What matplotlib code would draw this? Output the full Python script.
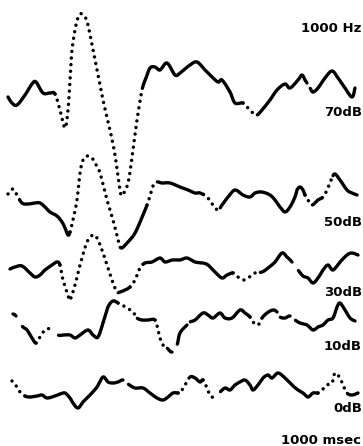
import matplotlib
matplotlib.use("Agg")
import numpy as np
import matplotlib.pyplot as plt

x70 = [8, 12, 17, 25, 32, 36, 43, 50, 55, 60, 65, 68, 70, 72, 76, 80, 85, 88, 93, 103,
       110, 115, 120, 122, 128, 133, 137, 142, 146, 150, 155, 160, 167, 175, 180, 190, 197, 205, 210, 218,
       222, 230, 235, 243, 248, 253, 257, 262, 270, 277, 285, 290, 298, 302, 305, 307, 310, 313, 318, 325,
       332, 338, 345, 352, 355]
y70 = [97, 103, 105, 95, 84, 82, 93, 93, 94, 110, 128, 110, 80, 50, 25, 14, 17, 25, 50, 100,
       130, 155, 190, 195, 183, 150, 120, 90, 78, 68, 67, 70, 63, 75, 73, 65, 62, 70, 75, 82,
       80, 92, 103, 103, 108, 113, 115, 110, 100, 90, 84, 88, 80, 75, 80, 83, 88, 92, 88, 78,
       71, 78, 88, 97, 88]

x50 = [8, 13, 17, 22, 28, 35, 40, 45, 50, 57, 62, 65, 68, 70, 73, 77, 80, 83, 87, 92,
       96, 100, 107, 113, 118, 121, 127, 135, 143, 147, 150, 153, 157, 162, 170, 180, 188, 195, 200, 207,
       213, 218, 222, 228, 235, 243, 250, 255, 262, 270, 275, 280, 285, 290, 295, 297, 300, 303, 305, 308,
       312, 318, 323, 327, 332, 335, 340, 347, 352, 357]
y50 = [194, 189, 195, 203, 204, 203, 203, 207, 212, 216, 222, 228, 235, 232, 220, 200, 173, 160, 156, 158,
       165, 173, 200, 220, 240, 248, 243, 233, 215, 205, 196, 186, 182, 183, 183, 187, 190, 193, 193, 197,
       205, 210, 205, 197, 190, 195, 197, 193, 192, 195, 200, 207, 212, 207, 197, 190, 187, 190, 195, 200,
       205, 200, 197, 190, 178, 174, 180, 190, 193, 195]

x30 = [10, 15, 22, 30, 35, 40, 45, 52, 57, 60, 63, 68, 70, 75, 80, 87, 93, 97, 102, 107,
       113, 117, 120, 125, 130, 135, 140, 145, 152, 160, 165, 172, 180, 187, 195, 203, 208, 215, 222, 227,
       233, 238, 243, 248, 255, 262, 268, 275, 282, 287, 292, 298, 303, 308, 313, 318, 323, 328, 333, 340,
       347, 352, 358]
y30 = [269, 267, 266, 273, 277, 275, 270, 265, 262, 265, 280, 295, 300, 285, 265, 242, 235, 238, 250, 265,
       283, 292, 292, 290, 287, 280, 268, 263, 262, 258, 262, 260, 260, 258, 262, 263, 265, 272, 278, 275,
       273, 277, 280, 278, 273, 272, 268, 262, 253, 257, 262, 270, 276, 278, 283, 278, 270, 265, 270, 262,
       255, 253, 255]

x10 = [13, 16, 22, 27, 32, 36, 40, 45, 50, 58, 63, 70, 75, 80, 88, 93, 98, 103, 108, 113,
       118, 122, 127, 133, 137, 142, 148, 155, 158, 160, 163, 167, 172, 177, 180, 187, 190, 195, 203, 208,
       213, 220, 225, 232, 240, 245, 250, 253, 258, 262, 267, 273, 277, 280, 285, 290, 295, 300, 307, 313,
       318, 323, 328, 333, 337, 340, 345, 350, 355]
y10 = [314, 316, 326, 330, 338, 343, 337, 330, 329, 335, 335, 335, 338, 335, 330, 335, 337, 323, 307, 301,
       303, 305, 308, 312, 318, 320, 320, 320, 330, 338, 345, 348, 352, 345, 333, 325, 322, 320, 313, 315,
       318, 313, 318, 318, 310, 313, 317, 322, 325, 318, 313, 310, 312, 317, 318, 316, 320, 323, 325, 330,
       327, 325, 320, 318, 307, 303, 310, 318, 321]

x0 = [12, 15, 20, 25, 30, 37, 42, 47, 55, 60, 65, 70, 73, 78, 83, 90, 97, 103, 108, 113,
      118, 123, 128, 135, 143, 150, 157, 163, 168, 173, 178, 180, 185, 190, 195, 200, 203, 207, 210, 213,
      220, 225, 230, 235, 240, 245, 250, 253, 258, 263, 268, 272, 278, 285, 292, 298, 303, 308, 313, 318,
      322, 327, 332, 335, 340, 343, 347, 352, 358]
y0 = [381, 384, 392, 396, 397, 396, 395, 398, 396, 394, 393, 398, 403, 408, 402, 395, 387, 377, 382, 383,
      382, 380, 384, 388, 388, 393, 398, 400, 397, 393, 393, 393, 385, 377, 378, 382, 380, 388, 395, 397,
      392, 388, 390, 385, 382, 380, 385, 390, 385, 378, 375, 378, 373, 378, 385, 390, 393, 397, 393, 393,
      390, 385, 383, 373, 378, 385, 393, 395, 393]

# stretches drawn as plotter dots, and breaks in the pen trace
dotted = {
    "70": [(55, 142), (243, 257)],
    "50": [(8, 20), (70, 121), (147, 157), (203, 220), (305, 312), (322, 333)],
    "30": [(60, 118), (130, 143), (233, 260)],
    "10": [(36, 50), (118, 137), (155, 167), (250, 262)],
    "0": [(12, 25), (178, 190), (203, 213), (318, 347)],
}
gaps = {
    "70": [(307, 310)],
    "50": [],
    "30": [(292, 298)],
    "10": [(16, 22), (50, 58), (172, 177), (187, 190), (277, 280), (290, 295)],
    "0": [(123, 128), (213, 220)],
}

traces = [("70", x70, y70), ("50", x50, y50), ("30", x30, y30), ("10", x10, y10), ("0", x0, y0)]

labels = ["70dB", "50dB", "30dB", "10dB", "0dB"]
label_y = [112, 222, 292, 347, 409]


def smooth(xs, ys, n=12):
    # catmull-rom through the read-off points
    p = np.column_stack([xs, ys]).astype(float)
    p = np.vstack([p[0], p, p[-1]])
    t = np.linspace(0, 1, n, endpoint=False)[:, None]
    out = []
    for i in range(1, len(p) - 2):
        p0, p1, p2, p3 = p[i - 1], p[i], p[i + 1], p[i + 2]
        seg = 0.5 * (2 * p1 + (-p0 + p2) * t + (2 * p0 - 5 * p1 + 4 * p2 - p3) * t ** 2
                     + (-p0 + 3 * p1 - 3 * p2 + p3) * t ** 3)
        out.append(seg)
    out.append(p[-2][None, :])
    c = np.vstack(out)
    return c[:, 0], c[:, 1]


def in_ranges(v, ranges):
    return any(a <= v <= b for a, b in ranges)


fig = plt.figure(figsize=(3.63, 4.46), dpi=100)
ax = fig.add_axes([0, 0, 1, 1])
ax.set_xlim(0, 363)
ax.set_ylim(446, 0)
ax.axis("off")

for key, xs, ys in traces:
    xf, yf = smooth(xs, ys)
    kind = []
    for v in xf:
        if in_ranges(v, gaps[key]):
            kind.append(0)
        elif in_ranges(v, dotted[key]):
            kind.append(2)
        else:
            kind.append(1)
    start = 0
    for i in range(1, len(xf) + 1):
        if i == len(xf) or kind[i] != kind[start]:
            k = kind[start]
            seg_x = xf[start:i + 1]
            seg_y = yf[start:i + 1]
            if k == 1:
                ax.plot(seg_x, seg_y, color="black", lw=2.4, solid_capstyle="round",
                        solid_joinstyle="round")
            elif k == 2:
                ax.plot(seg_x, seg_y, color="black", lw=2.5, linestyle=(0, (0.01, 1.9)),
                        dash_capstyle="round")
            start = i

txt = dict(color="black", fontsize=9.5, fontweight="bold", ha="right", va="center",
           family="DejaVu Sans")
ax.text(361, 28, "1000 Hz", **txt)
for lab, ly in zip(labels, label_y):
    ax.text(362, ly, lab, **txt)
ax.text(361, 440, "1000 msec", **txt)

fig.savefig("out.png", dpi=100)
